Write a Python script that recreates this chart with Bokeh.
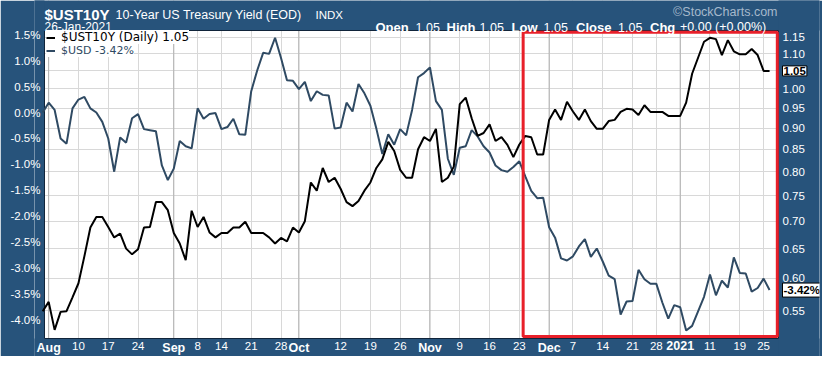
import math
from bokeh.plotting import figure
from bokeh.models import (Range1d, LinearScale, LinearAxis, FixedTicker, PrintfTickFormatter,
                          Legend, LegendItem, Label, LabelSet, ColumnDataSource, BoxAnnotation, Span)
from bokeh.core.properties import value
from bokeh.embed import file_html
from bokeh.resources import INLINE

# ---------------- data (trading-day index: -1 = 31 Jul 2020 ... 121 = 26 Jan 2021) -------------
ust10y = [0.549, 0.563, 0.522, 0.548, 0.549, 0.570, 0.592, 0.637, 0.688, 0.708, 0.708,
          0.689, 0.670, 0.677, 0.650, 0.640, 0.649, 0.688, 0.689, 0.737, 0.737,
          0.721, 0.678, 0.659, 0.630, 0.720, 0.689, 0.708, 0.679, 0.670, 0.678,
          0.678, 0.688, 0.688, 0.699, 0.678, 0.678, 0.678, 0.670, 0.659, 0.669,
          0.663, 0.688, 0.679, 0.700, 0.777, 0.760, 0.808, 0.778, 0.787, 0.764,
          0.737, 0.729, 0.739, 0.760, 0.777, 0.808, 0.827, 0.867, 0.846, 0.804,
          0.787, 0.787, 0.850, 0.878, 0.869, 0.898, 0.778, 0.787, 0.811, 0.960,
          0.977, 0.924, 0.881, 0.888, 0.909, 0.869, 0.878, 0.860, 0.832, 0.861,
          0.881, 0.878, 0.838, 0.838, 0.920, 0.946, 0.920, 0.966, 0.941, 0.920,
          0.946, 0.917, 0.898, 0.898, 0.917, 0.920, 0.940, 0.948, 0.946, 0.932,
          0.957, 0.940, 0.940, 0.940, 0.930, 0.930, 0.930, 0.964, 1.042, 1.088,
          1.136, 1.148, 1.144, 1.096, 1.141, 1.107, 1.098, 1.098, 1.114, 1.096,
          1.050, 1.050]

usd_pct = [0.00, 0.19, 0.05, -0.50, -0.60, 0.08, 0.25, 0.30, 0.08, 0.00, -0.18,
           -0.50, -1.14, -0.48, -0.58, -0.11, -0.03, -0.32, -0.34, -0.36, -1.02,
           -1.30, -1.08, -0.55, -0.65, -0.69, 0.08, -0.12, -0.03, -0.01, -0.32,
           -0.28, -0.12, -0.42, -0.43, 0.41, 0.81, 1.15, 1.13, 1.44, 1.05,
           0.62, 0.61, 0.45, 0.59, 0.22, 0.41, 0.34, 0.33, -0.31, -0.29,
           0.19, 0.02, 0.55, 0.37, 0.13, -0.31, -0.80, -0.42, -0.62, -0.32,
           -0.44, 0.05, 0.68, 0.76, 0.87, 0.22, 0.05, -0.89, -1.20, -0.68,
           -0.65, -0.34, -0.46, -0.65, -0.77, -1.02, -1.11, -1.14, -1.05, -0.94,
           -1.23, -1.51, -1.65, -1.64, -2.21, -2.41, -2.81, -2.85, -2.77, -2.58,
           -2.44, -2.78, -2.62, -2.87, -3.14, -3.21, -3.89, -3.64, -3.63, -3.03,
           -3.21, -3.30, -3.30, -3.66, -3.97, -3.71, -3.75, -4.20, -4.11, -3.83,
           -3.55, -3.12, -3.52, -3.24, -3.37, -2.79, -3.09, -3.10, -3.45, -3.38,
           -3.20, -3.42]

day_index = list(range(-1, -1 + len(ust10y)))

tick_days = [0, 5, 10, 15, 21, 25, 29, 34, 39, 42, 49, 54, 59, 64, 69, 74, 79,
             84, 88, 93, 98, 102, 106, 111, 116, 120]
tick_labels = ["Aug", "10", "17", "24", "Sep", "8", "14", "21", "28", "Oct", "12", "19", "26",
               "Nov", "9", "16", "23", "Dec", "7", "14", "21", "28", "2021", "11", "19", "25"]
month_days = [0, 21, 42, 64, 84, 106]
month_labels = ["Aug", "Sep", "Oct", "Nov", "Dec", "2021"]

usd_ticks = [1.5, 1.0, 0.5, 0.0, -0.5, -1.0, -1.5, -2.0, -2.5, -3.0, -3.5, -4.0]
ust_ticks = [0.55, 0.60, 0.65, 0.70, 0.75, 0.80, 0.85, 0.90, 0.95, 1.00, 1.05, 1.10, 1.15]

# ---------------- geometry (pixels of the figure) -------------
W, H = 822, 356
BL, BR = 34, 3
PX_L, PX_R = 44, 778          # white plot area
PX_T, PX_B = 30, 338
X0, XW = -0.7, 122.5          # day span of the white area
UW_T, UW_B = 1.58, -4.353     # % span of the white area
YW_T, YW_B = 1.171, 0.510     # yield span of the white area

pxx = (PX_R - PX_L) / (XW - X0)
pxu = (PX_B - PX_T) / (UW_T - UW_B)
kl = (PX_B - PX_T) / math.log(YW_T / YW_B)
XF0 = X0 - (PX_L - BL) / pxx
XF1 = X0 + (W - BR - PX_L) / pxx
U_TOP = UW_T + PX_T / pxu
U_BOT = UW_B - (H - PX_B) / pxu
Y_TOP = YW_T * math.exp(PX_T / kl)
Y_BOT = YW_B * math.exp(-(H - PX_B) / kl)


def dx(px):
    return X0 + (px - PX_L) / pxx


def dy(py):
    return UW_T - (py - PX_T) / pxu


BG = "#27537b"
SLATE = "#2f4a63"
GRID = "#d8d8d8"
FONT = "Liberation Sans"

p = figure(width=W, height=H, output_backend="svg", toolbar_location=None,
           x_range=Range1d(XF0, XF1), y_range=Range1d(Y_BOT, Y_TOP), y_axis_type="log",
           y_axis_location="right", min_border_left=BL, min_border_right=BR,
           min_border_top=0, min_border_bottom=0,
           background_fill_color="white", border_fill_color=BG, outline_line_color=None)
p.title.visible = False
rax = p.right[0]
xax = p.below[0]

p.extra_y_ranges = {"usd": Range1d(U_BOT, U_TOP)}
p.extra_y_scales = {"usd": LinearScale()}
left_ax = LinearAxis(y_range_name="usd")
p.add_layout(left_ax, "left")

rax.ticker = FixedTicker(ticks=ust_ticks)
rax.formatter = PrintfTickFormatter(format="%.2f")
left_ax.ticker = FixedTicker(ticks=usd_ticks)
left_ax.formatter = PrintfTickFormatter(format="%.1f%%")
xax.ticker = FixedTicker(ticks=tick_days)
xax.major_label_overrides = {d: ("" if d in month_days else lab)
                             for d, lab in zip(tick_days, tick_labels)}

for ax in (rax, left_ax, xax):
    ax.major_label_text_color = "white"
    ax.major_label_text_font = FONT
    ax.major_label_text_font_size = "11.5px"
    ax.axis_line_color = None
    ax.minor_tick_line_color = None
    ax.major_tick_line_color = None
    ax.major_tick_in = 0
    ax.major_tick_out = 0
left_ax.major_label_standoff = BL - (PX_L - 4)
rax.major_label_standoff = (PX_R + 4) - (W - BR)
xax.major_label_standoff = 341 - H

p.xgrid.ticker = FixedTicker(ticks=tick_days)
p.xgrid.grid_line_color = GRID
p.ygrid.ticker = FixedTicker(ticks=ust_ticks)
p.ygrid.grid_line_color = GRID

for d in month_days:
    p.add_layout(Span(location=d, dimension="height", line_color="#b0b0b0",
                      line_width=1, level="underlay"))

# blue margins inside the frame (header, x labels, left and right label strips)
BIG_L, BIG_R, BIG_B, BIG_T = XF0 - 10, XF1 + 10, U_BOT - 10, U_TOP + 10
for kw in (dict(left=BIG_L, right=BIG_R, bottom=UW_T, top=BIG_T),
           dict(left=BIG_L, right=BIG_R, bottom=BIG_B, top=UW_B),
           dict(left=XW, right=BIG_R, bottom=BIG_B, top=BIG_T),
           dict(left=BIG_L, right=X0, bottom=BIG_B, top=BIG_T)):
    p.add_layout(BoxAnnotation(y_range_name="usd", fill_color=BG, fill_alpha=1,
                               line_color=None, level="underlay", **kw))
p.add_layout(BoxAnnotation(left=X0, right=XW, top=UW_T, bottom=UW_B, y_range_name="usd",
                           fill_alpha=0, line_color="#10243a", line_alpha=1, line_width=1,
                           level="underlay"))

r_usd = p.line(day_index, usd_pct, line_color=SLATE, line_width=2, y_range_name="usd")
r_ust = p.line(day_index, ust10y, line_color="black", line_width=2)

leg_usd = Legend(items=[LegendItem(label=f"$USD {usd_pct[-1]:.2f}%", renderers=[r_usd])],
                 location=(PX_L + 2 - BL, H - 57), margin=0, padding=0, glyph_height=9,
                 glyph_width=9, label_standoff=6, label_height=10, label_text_font="DejaVu Sans",
                 label_text_font_size="11px", label_text_color=SLATE,
                 background_fill_color="white", background_fill_alpha=1.0, border_line_alpha=0)
leg_ust = Legend(items=[LegendItem(label=f"$UST10Y (Daily) {ust10y[-1]:.2f}", renderers=[r_ust])],
                 location=(PX_L + 2 - BL, H - 44), margin=0, padding=0, glyph_height=9,
                 glyph_width=9, label_standoff=6, label_height=11, label_text_font="DejaVu Sans",
                 label_text_font_size="12px", label_text_color="black",
                 background_fill_color="white", background_fill_alpha=1.0, border_line_alpha=0)
p.add_layout(leg_usd)
p.add_layout(leg_ust)

# red highlight box
p.add_layout(BoxAnnotation(left=79.64, right=122.3, top=1.545, bottom=-4.315, y_range_name="usd",
                           fill_alpha=0, line_color="#e8202a", line_alpha=1, line_width=3))

# bold month labels on the x axis row
msrc = ColumnDataSource(dict(x=month_days, text=month_labels))
p.add_layout(LabelSet(x="x", y=dy(340.5), text="text", source=msrc, y_range_name="usd",
                      text_font=value(FONT), text_font_style="bold", text_font_size="12.5px",
                      text_color="white", text_align="center", text_baseline="top"))


def lab(text, px, py, size, bold=False, color="white", align="left"):
    p.add_layout(Label(x=dx(px), y=dy(py), y_range_name="usd", text=text, text_font=FONT,
                       text_font_size=size, text_font_style="bold" if bold else "normal",
                       text_color=color, text_align=align, text_baseline="alphabetic"))


lab("$UST10Y", 44, 14, "15px", bold=True)
lab("10-Year US Treasury Yield (EOD)", 115, 14, "12.5px")
lab("INDX", 315, 14, "11.5px")
lab("26-Jan-2021", 44, 26.5, "12px")
lab("\u00a9StockCharts.com", 777, 11.5, "12.5px", color="#a6b9cc", align="right")
row = [("Open", 375, True), ("1.05", 415, False), ("High", 446, True), ("1.05", 479, False),
       ("Low", 511, True), ("1.05", 543, False), ("Close", 575.5, True), ("1.05", 617.5, False),
       ("Chg", 649.5, True), ("+0.00 (+0.00%)", 679.5, False)]
for t, x, b in row:
    lab(t, x, 26.5, "13px" if b else "12.5px", bold=b)

# last-value boxes beside the right axis
p.add_layout(Label(x=dx(782), y=ust10y[-1], text=f"{ust10y[-1]:.2f}", text_font=FONT,
                   text_font_size="11.5px", text_font_style="bold", text_color="black",
                   text_baseline="middle", background_fill_color="white",
                   border_line_color="black", border_line_width=1, padding=1))
p.add_layout(Label(x=dx(782), y=usd_pct[-1], y_range_name="usd", text=f"{usd_pct[-1]:.2f}%",
                   text_font=FONT, text_font_size="11.5px", text_font_style="bold",
                   text_color="black", text_baseline="middle", background_fill_color="white",
                   border_line_color="black", border_line_width=1, padding=1))

open("out.html", "w").write(file_html(p, INLINE))
